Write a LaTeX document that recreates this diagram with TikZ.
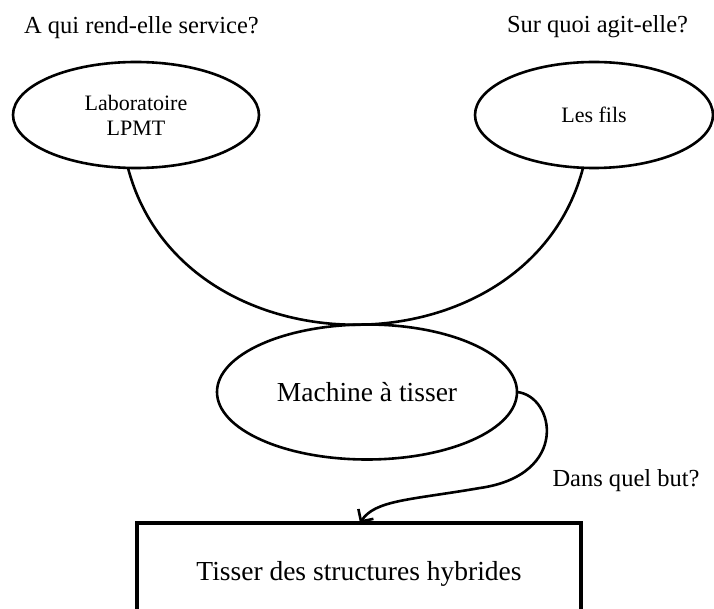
\documentclass[tikz,border=0pt]{standalone}
\usepackage{fontspec}
\setmainfont{Liberation Serif}
\usetikzlibrary{shapes.geometric,arrows.meta}
\begin{document}
\begin{tikzpicture}[x=1pt,y=-1pt,
  oval/.style={draw, ellipse, line width=2.6pt, inner sep=0pt, outer sep=0pt, align=center},
  goalbox/.style={draw, rectangle, line width=3.6pt, inner xsep=0pt, inner ysep=0pt, outer sep=0pt,
    minimum width=444pt, text height=57pt, text depth=73pt},
  link/.style={line width=2.6pt},
  question/.style={anchor=base, inner sep=0pt, font=\fontsize{24.5}{29}\selectfont},
  ]
\useasboundingbox (0,0) rectangle (714,609);
\clip (0,0) rectangle (714,609);

\node[question] (q1) at (141.5,34) {A qui rend-elle service?};
\node[question] (q2) at (597.5,33) {Sur quoi agit-elle?};

\node[oval, minimum width=246pt, minimum height=106pt, font=\fontsize{22}{25}\selectfont] (lab) at (136,115) {Laboratoire\\LPMT};
\node[oval, minimum width=238pt, minimum height=106pt, font=\fontsize{22}{25}\selectfont] (fils) at (594,115) {Les fils};
\node[oval, minimum width=300pt, minimum height=135pt, font=\fontsize{27.5}{33}\selectfont] (mach) at (367,392) {Machine à tisser};
\node[goalbox, anchor=north, font=\fontsize{27.5}{33}\selectfont] (goal) at (359,523) {Tisser des structures hybrides};

\node[question] (but) at (626,486) {Dans quel but?};

\draw[link] ([xshift=-8pt]lab.south) .. controls +(55,209) and +(-55,209) .. ([xshift=-11pt]fils.south);

\coordinate (mid) at (480,488);
\draw[link, -{Straight Barb[length=9pt,width=18pt]}] (mach.east)
  .. controls (555,396) and (570,475) .. (mid)
  .. controls (410,500) and (375,500) .. ([xshift=1pt]goal.north);
\end{tikzpicture}
\end{document}
